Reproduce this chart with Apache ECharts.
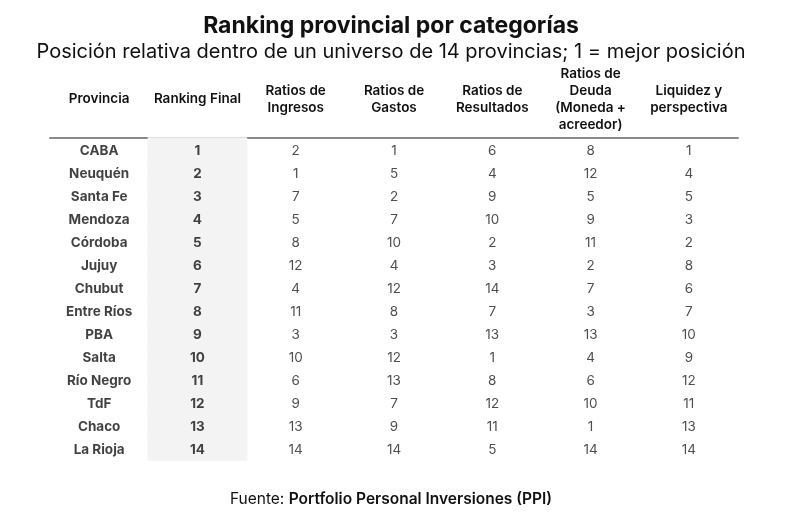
<!DOCTYPE html>
<html><head><meta charset="utf-8">
<script src="https://cdn.jsdelivr.net/npm/echarts@6/dist/echarts.min.js"></script>
<style>html,body{margin:0;padding:0;background:#fff}#c{width:800px;height:516px}</style>
</head><body><div id="c"></div>
<script>
const headers = ['Provincia', 'Ranking Final', 'Ratios de\nIngresos', 'Ratios de\nGastos', 'Ratios de\nResultados', 'Ratios de\nDeuda\n(Moneda +\nacreedor)', 'Liquidez y\nperspectiva'];
const provinces = ['CABA','Neuquén','Santa Fe','Mendoza','Córdoba','Jujuy','Chubut','Entre Ríos','PBA','Salta','Río Negro','TdF','Chaco','La Rioja'];
const rankingFinal = [1,2,3,4,5,6,7,8,9,10,11,12,13,14];
const ingresos = [2,1,7,5,8,12,4,11,3,10,6,9,13,14];
const gastos = [1,5,2,7,10,4,12,8,3,12,13,7,9,14];
const resultados = [6,4,9,10,2,3,14,7,13,1,8,12,11,5];
const deuda = [8,12,5,9,11,2,7,3,13,4,6,10,1,14];
const liquidez = [1,4,5,3,2,8,6,7,10,9,12,11,13,14];

const columns = [provinces, rankingFinal, ingresos, gastos, resultados, deuda, liquidez];
const FONT = 'Inter';

function colSeries(ci) {
  const bold = ci <= 1;
  return {
    type: 'scatter', symbolSize: 1, itemStyle: {color: 'rgba(0,0,0,0)'},
    silent: true, z: 5,
    data: columns[ci].map((v, ri) => ({value: [ci, ri], label: {formatter: String(v)}})),
    label: {show: true, position: 'inside', offset: [0, 1.5], color: bold ? '#111' : '#222', fontFamily: FONT,
      fontSize: 13.5, fontWeight: bold ? 700 : 400}
  };
}

const chart = echarts.init(document.getElementById('c'));
chart.setOption({
  animation: false,
  backgroundColor: '#fff',
  title: [{
    text: 'Ranking provincial por categorías',
    subtext: 'Posición relativa dentro de un universo de 14 provincias; 1 = mejor posición',
    left: 391, textAlign: 'center', padding: 0, top: 15, itemGap: 4,
    textStyle: {fontFamily: FONT, fontSize: 23, fontWeight: 700, color: '#111'},
    subtextStyle: {fontFamily: FONT, fontSize: 20, fontWeight: 400, color: '#111'}
  }, {
    text: '{a|Fuente: }{b|Portfolio Personal Inversiones (PPI)}',
    left: 391, textAlign: 'center', padding: 0, top: 491,
    textStyle: {rich: {
      a: {fontFamily: FONT, fontSize: 15.5, fontWeight: 400, color: '#111'},
      b: {fontFamily: FONT, fontSize: 15.5, fontWeight: 600, color: '#111'}
    }}
  }],
  grid: {left: 50, right: 62, top: 138, height: 322},
  xAxis: {
    type: 'category', data: headers, position: 'top',
    axisLine: {show: true, lineStyle: {color: '#8a8a8a', width: 2}},
    axisTick: {show: false},
    axisLabel: {interval: 0, margin: 39, verticalAlign: 'middle', fontFamily: FONT,
      fontSize: 13.5, fontWeight: 600, color: '#111', lineHeight: 17}
  },
  yAxis: {
    type: 'category', data: provinces, inverse: true,
    axisLine: {show: false}, axisTick: {show: false}, axisLabel: {show: false}, splitLine: {show: false}
  },
  series: [{
    type: 'heatmap', silent: true, z: 1,
    data: rankingFinal.map((v, ri) => [1, ri, v]),
    itemStyle: {color: '#f3f3f3', borderColor: '#f3f3f3', borderWidth: 1},
    label: {show: false}
  }].concat(columns.map((c, ci) => colSeries(ci)))
});
</script></body></html>
